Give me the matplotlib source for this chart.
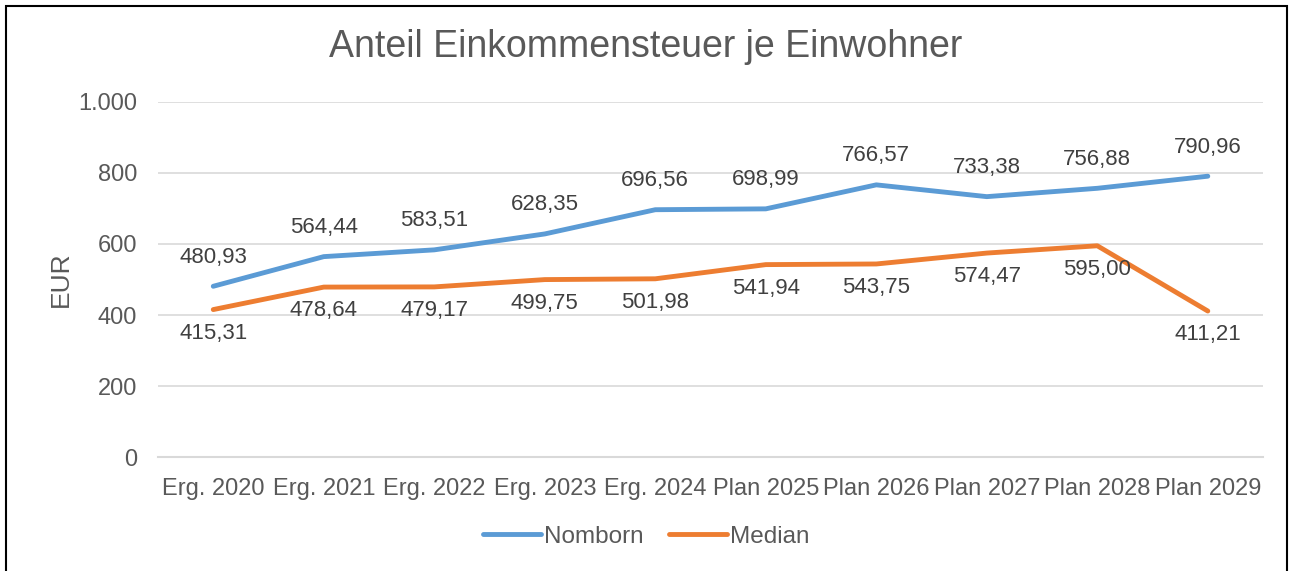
import matplotlib.pyplot as plt
from matplotlib.patches import Rectangle

plt.rcParams['font.family'] = ['Liberation Sans', 'DejaVu Sans']

categories = ["Erg. 2020", "Erg. 2021", "Erg. 2022", "Erg. 2023", "Erg. 2024",
              "Plan 2025", "Plan 2026", "Plan 2027", "Plan 2028", "Plan 2029"]
nomborn = [480.93, 564.44, 583.51, 628.35, 696.56, 698.99, 766.57, 733.38, 756.88, 790.96]
median = [415.31, 478.64, 479.17, 499.75, 501.98, 541.94, 543.75, 574.47, 595.00, 411.21]
yticks = [0, 200, 400, 600, 800, 1000]
ytick_labels = ["0", "200", "400", "600", "800", "1.000"]

TXT = "#595959"


def de(v):
    return f"{v:.2f}".replace(".", ",")


fig = plt.figure(figsize=(12.92, 5.71), dpi=100)
ax = fig.add_axes([0.1223, 0.1996, 0.8553, 0.6218])

x = range(len(categories))
ax.plot(x, nomborn, color="#5B9BD5", lw=3.5, solid_capstyle="round", label="Nomborn", zorder=3)
ax.plot(x, median, color="#ED7D31", lw=3.5, solid_capstyle="round", label="Median", zorder=3)

for i, v in enumerate(nomborn):
    ax.annotate(de(v), (i, v), xytext=(0, 21), textcoords="offset points",
                ha="center", va="center", fontsize=16, color="#404040")
for i, v in enumerate(median):
    ax.annotate(de(v), (i, v), xytext=(0, -17), textcoords="offset points",
                ha="center", va="center", fontsize=16, color="#404040")

ax.set_xlim(-0.5, len(categories) - 0.5)
ax.set_ylim(0, 1000)
ax.set_yticks(yticks)
ax.set_yticklabels(ytick_labels)
ax.set_xticks(list(x))
ax.set_xticklabels(categories)
ax.tick_params(axis="both", length=0, labelsize=17, colors=TXT)
ax.tick_params(axis="y", pad=15)
ax.tick_params(axis="x", pad=15)
ax.grid(axis="y", color="#D9D9D9", lw=1.2)
ax.set_axisbelow(True)
for s in ["top", "right", "left"]:
    ax.spines[s].set_visible(False)
ax.spines["bottom"].set_color("#D9D9D9")
ax.spines["bottom"].set_linewidth(1.5)

ax.set_ylabel("EUR", fontsize=19, color=TXT, labelpad=4)
fig.text(0.5, 0.917, "Anteil Einkommensteuer je Einwohner", ha="center", va="center",
         fontsize=27, color=TXT)

fig.legend(loc="center", bbox_to_anchor=(0.5, 0.06), ncol=2, frameon=False,
           fontsize=17.5, labelcolor=TXT, handlelength=2.4, columnspacing=1.05,
           handletextpad=0.1)

fig.patches.append(Rectangle((6 / 1292, -0.01), 1281 / 1292, 1 - 6 / 571 + 0.01,
                             transform=fig.transFigure, fill=False,
                             edgecolor="black", lw=1.5))

fig.savefig("out.png", dpi=100)
